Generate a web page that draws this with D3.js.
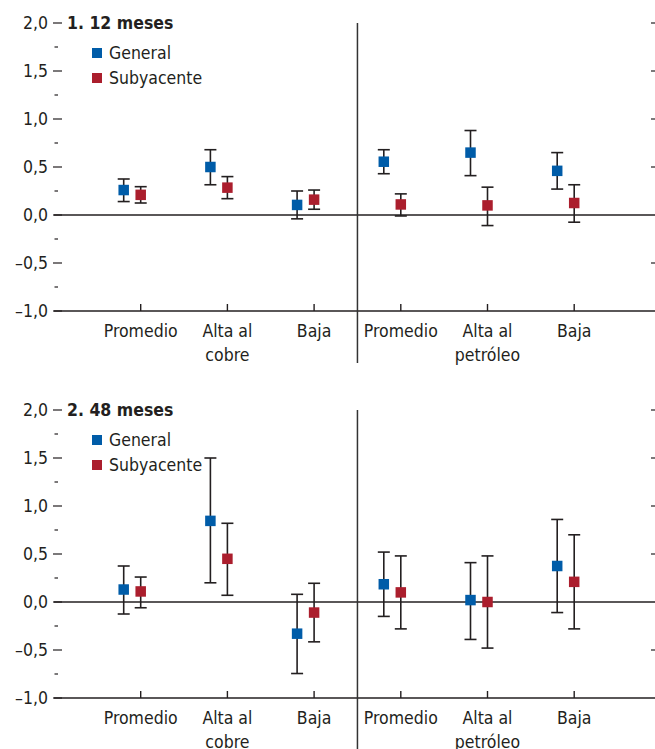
<!DOCTYPE html>
<html>
<head>
<meta charset="utf-8">
<script src="https://cdn.jsdelivr.net/npm/d3@7"></script>
<style>
  body { margin: 0; background: #fff; }
  svg { display: block; font-family: "Liberation Sans Narrow", "DejaVu Sans Condensed", "Liberation Sans", sans-serif; }
</style>
</head>
<body>
<div id="chart"></div>
<script>
// categories (two groups of three, split by the vertical divider)
const categories = [["Promedio"], ["Alta al", "cobre"], ["Baja"], ["Promedio"], ["Alta al", "petróleo"], ["Baja"]];
const seriesNames = ["General", "Subyacente"];
const yTicks = [2, 1.5, 1, 0.5, 0, -0.5, -1];
const yMinor = [1.75, 1.25, 0.75, 0.25, -0.25, -0.75];
const panelTitles = ["1. 12 meses", "2. 48 meses"];

// 1. 12 meses
const general12   = [0.26, 0.50, 0.105, 0.555, 0.65, 0.46];
const general12Lo = [0.14, 0.315, -0.04, 0.43, 0.41, 0.27];
const general12Hi = [0.375, 0.68, 0.25, 0.68, 0.88, 0.65];
const sub12   = [0.21, 0.285, 0.16, 0.11, 0.10, 0.125];
const sub12Lo = [0.125, 0.17, 0.06, -0.01, -0.11, -0.075];
const sub12Hi = [0.295, 0.40, 0.26, 0.22, 0.29, 0.315];

// 2. 48 meses
const general48   = [0.13, 0.845, -0.33, 0.185, 0.02, 0.375];
const general48Lo = [-0.125, 0.20, -0.745, -0.15, -0.39, -0.11];
const general48Hi = [0.375, 1.50, 0.08, 0.52, 0.41, 0.86];
const sub48   = [0.11, 0.45, -0.11, 0.10, 0.0, 0.21];
const sub48Lo = [-0.06, 0.07, -0.415, -0.28, -0.48, -0.28];
const sub48Hi = [0.26, 0.82, 0.195, 0.48, 0.48, 0.70];

const W = 655, H = 749;
const colors = ["#005ca8", "#ab1e2d"];
const offsets = [-17, 0];
const ink = "#231f20";

const svg = d3.select("#chart").append("svg")
  .attr("width", W).attr("height", H)
  .attr("viewBox", `0 0 ${W} ${H}`);

const idx = d3.range(categories.length);
const x = d3.scalePoint().domain(idx).range([140.7, 574.2]);
const step = x.step();
const axisLeft = 54, axisRight = W;
const divX = (x(2) + x(3)) / 2;

const fmt = v => (v < 0 ? "\u2013" : "") + Math.abs(v).toFixed(1).replace(".", ",");

function drawPanel(top, title, series) {
  const g = svg.append("g");
  const y = d3.scaleLinear().domain([-1, 2]).range([top + 288, top]);

  // y tick labels and dashes
  g.selectAll("text.ylab").data(yTicks).join("text")
    .attr("class", "ylab")
    .attr("x", 48).attr("y", d => y(d) + 6)
    .attr("text-anchor", "end")
    .attr("font-size", 17.5).attr("fill", ink)
    .text(fmt);
  g.selectAll("line.ymaj").data(yTicks).join("line")
    .attr("class", "ymaj")
    .attr("x1", 53).attr("x2", 62)
    .attr("y1", d => y(d)).attr("y2", d => y(d))
    .attr("stroke", ink).attr("stroke-width", 1.2);
  g.selectAll("line.ymin").data(yMinor).join("line")
    .attr("class", "ymin")
    .attr("x1", 54.5).attr("x2", 58)
    .attr("y1", d => y(d)).attr("y2", d => y(d))
    .attr("stroke", ink).attr("stroke-width", 1.2);
  // right edge ticks
  g.selectAll("line.yright").data(yTicks.filter(d => d !== 0 && d !== -1)).join("line")
    .attr("class", "yright")
    .attr("x1", 651).attr("x2", W)
    .attr("y1", d => y(d)).attr("y2", d => y(d))
    .attr("stroke", ink).attr("stroke-width", 1.2);

  // zero line and bottom axis
  [0, -1].forEach(v => {
    g.append("line")
      .attr("x1", axisLeft).attr("x2", axisRight)
      .attr("y1", y(v)).attr("y2", y(v))
      .attr("stroke", ink).attr("stroke-width", v === 0 ? 1.3 : 1.6);
  });

  // x ticks
  g.selectAll("line.xt").data(idx).join("line")
    .attr("class", "xt")
    .attr("x1", d => x(d)).attr("x2", d => x(d))
    .attr("y1", y(-1) - 7).attr("y2", y(-1))
    .attr("stroke", ink).attr("stroke-width", 1.4);

  // x labels
  const lab = g.selectAll("text.xlab").data(idx).join("text")
    .attr("class", "xlab")
    .attr("x", d => x(d)).attr("y", y(-1) + 26)
    .attr("text-anchor", "middle")
    .attr("font-size", 17.5).attr("fill", ink);
  lab.selectAll("tspan").data(d => categories[d]).join("tspan")
    .attr("x", function() { return this.parentNode.getAttribute("x"); })
    .attr("dy", (d, i) => i === 0 ? 0 : 24)
    .text(d => d);

  // divider
  g.append("line")
    .attr("x1", divX).attr("x2", divX)
    .attr("y1", top).attr("y2", y(-1) + 52)
    .attr("stroke", "#333").attr("stroke-width", 1.5);

  // title
  g.append("text")
    .attr("x", 67).attr("y", top + 6)
    .attr("font-size", 17.5).attr("font-weight", "bold").attr("fill", ink)
    .text(title);

  // legend
  seriesNames.forEach((name, i) => {
    const ly = top + 30 + i * 25;
    g.append("rect")
      .attr("x", 92).attr("y", ly - 5).attr("width", 10).attr("height", 10)
      .attr("fill", colors[i]);
    g.append("text")
      .attr("x", 109).attr("y", ly + 6)
      .attr("font-size", 17.5).attr("fill", ink)
      .text(name);
  });

  // error bars + markers
  series.forEach((s, si) => {
    const pts = idx.map(i => ({ i, v: s.v[i], lo: s.lo[i], hi: s.hi[i] }));
    const gs = g.append("g");
    const cx = d => x(d.i) + offsets[si];
    gs.selectAll("line.bar").data(pts).join("line")
      .attr("x1", cx).attr("x2", cx)
      .attr("y1", d => y(d.lo)).attr("y2", d => y(d.hi))
      .attr("stroke", ink).attr("stroke-width", 1.6);
    gs.selectAll("line.capHi").data(pts).join("line")
      .attr("x1", d => cx(d) - 6).attr("x2", d => cx(d) + 6)
      .attr("y1", d => y(d.hi)).attr("y2", d => y(d.hi))
      .attr("stroke", ink).attr("stroke-width", 1.6);
    gs.selectAll("line.capLo").data(pts).join("line")
      .attr("x1", d => cx(d) - 6).attr("x2", d => cx(d) + 6)
      .attr("y1", d => y(d.lo)).attr("y2", d => y(d.lo))
      .attr("stroke", ink).attr("stroke-width", 1.6);
    gs.selectAll("rect").data(pts).join("rect")
      .attr("x", d => cx(d) - 5.25).attr("y", d => y(d.v) - 5.25)
      .attr("width", 10.5).attr("height", 10.5)
      .attr("fill", colors[si]);
  });
}

drawPanel(23, panelTitles[0], [
  { v: general12, lo: general12Lo, hi: general12Hi },
  { v: sub12, lo: sub12Lo, hi: sub12Hi }
]);
drawPanel(410, panelTitles[1], [
  { v: general48, lo: general48Lo, hi: general48Hi },
  { v: sub48, lo: sub48Lo, hi: sub48Hi }
]);
</script>
</body>
</html>
